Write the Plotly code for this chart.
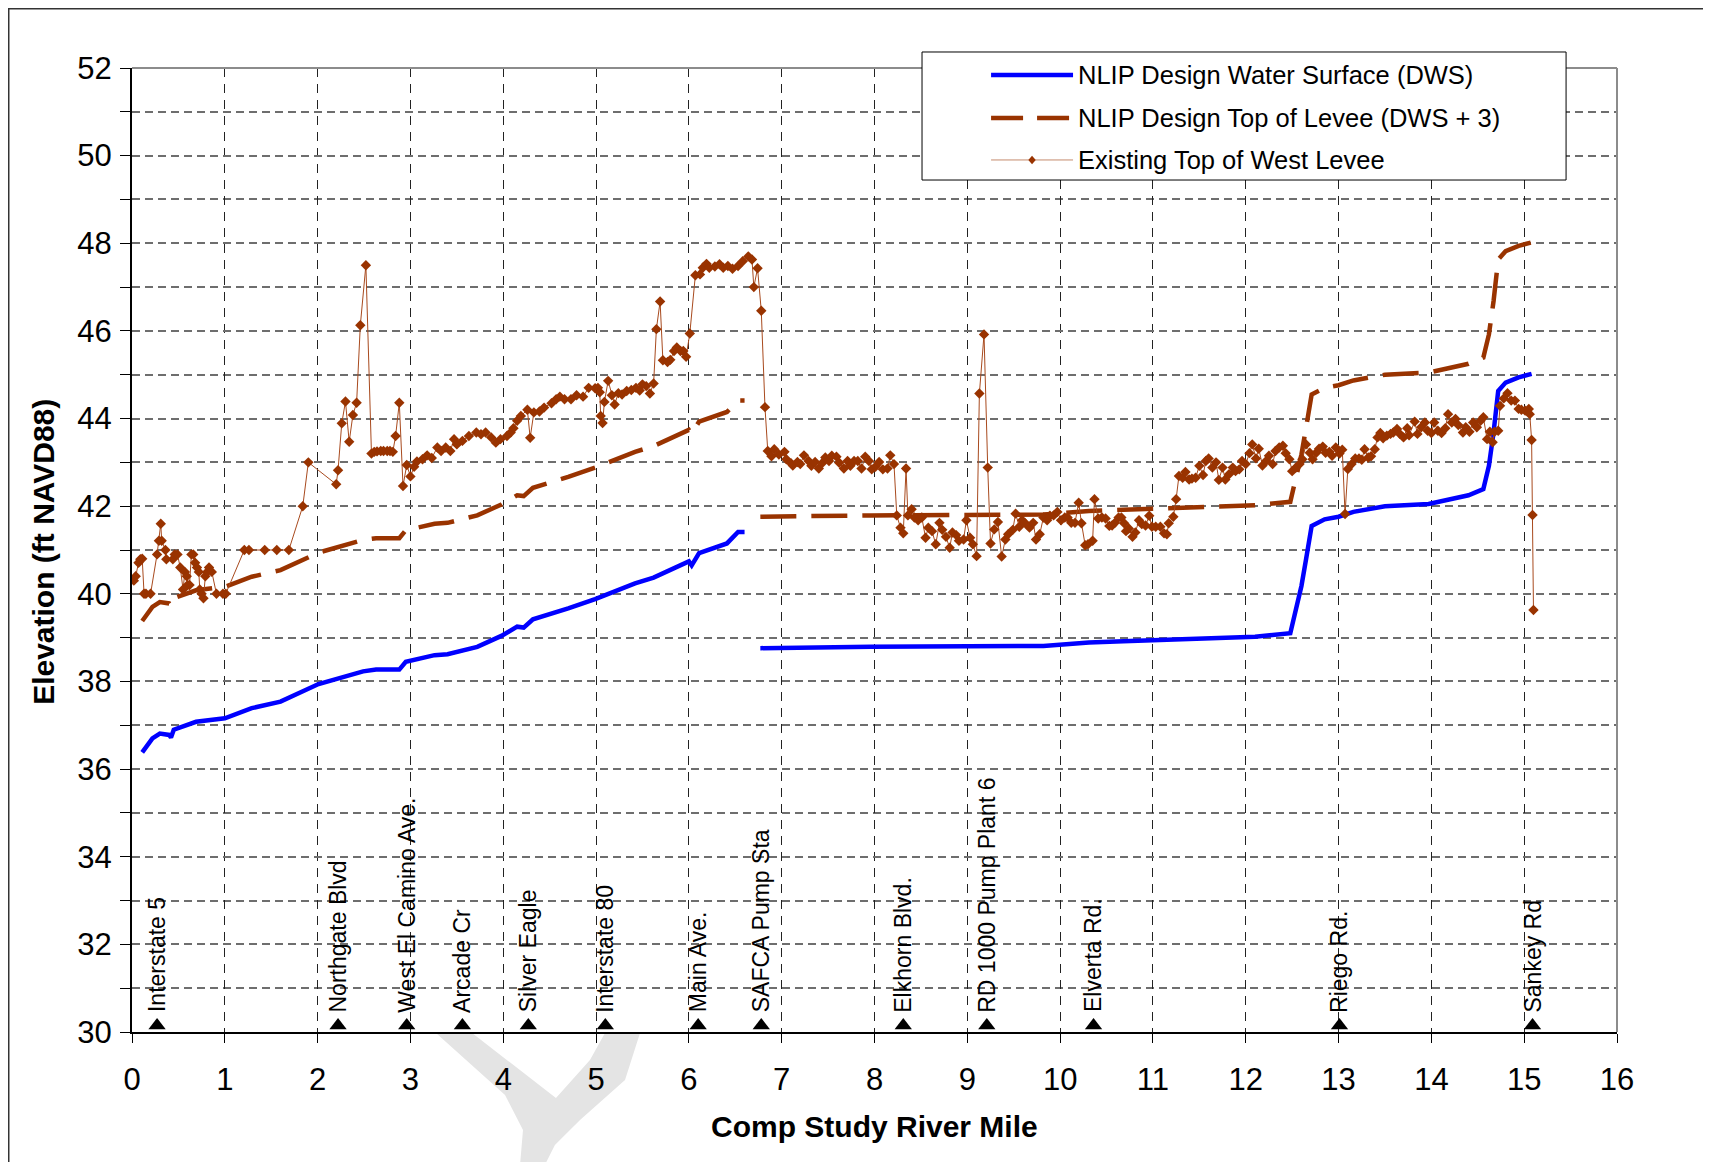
import plotly.graph_objects as go

# existing top of west levee: river mile / elevation (ft NAVD88)
levee_mile = [0.02, 0.04, 0.07, 0.09, 0.11, 0.13, 0.15, 0.20, 0.27, 0.29, 0.31, 0.32, 0.36, 0.37, 0.44, 0.46,
              0.49, 0.52, 0.55, 0.57, 0.59, 0.60, 0.62, 0.64, 0.66, 0.68, 0.70, 0.72, 0.73, 0.75, 0.77, 0.79,
              0.81, 0.83, 0.86, 0.91, 0.98, 1.01, 1.21, 1.26, 1.43, 1.56, 1.69, 1.84, 1.90, 2.20, 2.22, 2.26,
              2.30, 2.34, 2.38, 2.42, 2.46, 2.52, 2.58, 2.61, 2.64, 2.68, 2.71, 2.75, 2.78, 2.81, 2.84, 2.88,
              2.92, 2.96, 3.00, 3.04, 3.07, 3.13, 3.18, 3.23, 3.29, 3.33, 3.38, 3.43, 3.47, 3.50, 3.56, 3.63,
              3.71, 3.76, 3.81, 3.87, 3.92, 3.97, 4.04, 4.08, 4.11, 4.15, 4.19, 4.26, 4.29, 4.33, 4.39, 4.44,
              4.52, 4.57, 4.61, 4.66, 4.73, 4.79, 4.86, 4.92, 4.99, 5.02, 5.04, 5.05, 5.07, 5.09, 5.13, 5.17,
              5.20, 5.24, 5.28, 5.33, 5.38, 5.43, 5.47, 5.50, 5.54, 5.58, 5.62, 5.65, 5.69, 5.72, 5.77, 5.80,
              5.84, 5.87, 5.91, 5.94, 5.97, 6.01, 6.07, 6.12, 6.15, 6.19, 6.22, 6.28, 6.33, 6.37, 6.42, 6.47,
              6.53, 6.58, 6.64, 6.68, 6.70, 6.74, 6.78, 6.82, 6.85, 6.89, 6.92, 6.97, 7.03, 7.05, 7.10, 7.12,
              7.17, 7.20, 7.24, 7.29, 7.32, 7.36, 7.40, 7.44, 7.47, 7.51, 7.54, 7.59, 7.62, 7.67, 7.71, 7.74,
              7.78, 7.82, 7.86, 7.90, 7.94, 7.97, 8.01, 8.05, 8.09, 8.14, 8.17, 8.21, 8.24, 8.28, 8.31, 8.34,
              8.36, 8.40, 8.43, 8.47, 8.51, 8.55, 8.58, 8.62, 8.66, 8.70, 8.73, 8.77, 8.81, 8.84, 8.88, 8.91,
              8.96, 8.99, 9.03, 9.06, 9.10, 9.13, 9.18, 9.22, 9.25, 9.29, 9.33, 9.37, 9.41, 9.44, 9.49, 9.52,
              9.56, 9.59, 9.62, 9.67, 9.71, 9.74, 9.78, 9.82, 9.86, 9.89, 9.93, 9.97, 10.01, 10.05, 10.08, 10.12,
              10.16, 10.20, 10.23, 10.27, 10.30, 10.35, 10.37, 10.41, 10.45, 10.49, 10.53, 10.56, 10.59, 10.63,
              10.66, 10.69, 10.71, 10.74, 10.78, 10.81, 10.85, 10.88, 10.92, 10.96, 10.99, 11.03, 11.08, 11.12,
              11.15, 11.17, 11.22, 11.25, 11.28, 11.32, 11.35, 11.39, 11.42, 11.46, 11.50, 11.54, 11.57, 11.60,
              11.64, 11.68, 11.71, 11.75, 11.78, 11.82, 11.86, 11.89, 11.93, 11.96, 12.00, 12.04, 12.07, 12.11,
              12.14, 12.18, 12.22, 12.25, 12.29, 12.32, 12.36, 12.40, 12.43, 12.47, 12.50, 12.54, 12.58, 12.61,
              12.65, 12.69, 12.72, 12.76, 12.79, 12.83, 12.86, 12.90, 12.93, 12.97, 13.01, 13.04, 13.07, 13.10,
              13.14, 13.18, 13.22, 13.25, 13.28, 13.32, 13.35, 13.39, 13.42, 13.45, 13.48, 13.52, 13.56, 13.59,
              13.63, 13.66, 13.70, 13.74, 13.76, 13.82, 13.85, 13.89, 13.93, 13.96, 14.00, 14.03, 14.07, 14.11,
              14.15, 14.18, 14.22, 14.26, 14.29, 14.34, 14.37, 14.41, 14.45, 14.49, 14.53, 14.56, 14.60, 14.63,
              14.66, 14.68, 14.72, 14.74, 14.78, 14.82, 14.86, 14.90, 14.94, 14.97, 15.01, 15.05, 15.06, 15.08,
              15.09, 15.10]
levee_elev = [40.30, 40.40, 40.71, 40.79, 40.80, 40.00, 40.00, 40.00, 40.90, 41.21, 41.60, 41.21, 41.00, 40.79, 40.79, 40.90,
              40.90, 40.60, 40.10, 40.50, 40.40, 40.20, 40.20, 40.90, 40.90, 40.71, 40.60, 40.50, 40.10, 40.00, 39.90, 40.40,
              40.50, 40.60, 40.50, 40.00, 40.00, 40.00, 41.00, 41.00, 41.00, 41.00, 41.00, 42.00, 43.00, 42.50, 42.82, 43.89,
              44.39, 43.47, 44.08, 44.36, 46.13, 47.50, 43.20, 43.24, 43.25, 43.26, 43.26, 43.26, 43.26, 43.24, 43.60, 44.36,
              42.46, 42.94, 42.68, 42.90, 43.02, 43.07, 43.16, 43.10, 43.34, 43.26, 43.34, 43.26, 43.53, 43.41, 43.49, 43.60,
              43.68, 43.64, 43.68, 43.57, 43.45, 43.53, 43.60, 43.68, 43.78, 43.95, 44.06, 44.20, 43.56, 44.14, 44.16, 44.25,
              44.35, 44.44, 44.50, 44.44, 44.44, 44.53, 44.50, 44.70, 44.69, 44.70, 44.60, 44.06, 43.90, 44.38, 44.86, 44.53,
              44.32, 44.58, 44.55, 44.63, 44.65, 44.70, 44.64, 44.78, 44.74, 44.57, 44.80, 46.04, 46.67, 45.33, 45.29, 45.34,
              45.54, 45.62, 45.54, 45.54, 45.41, 45.94, 47.27, 47.29, 47.44, 47.53, 47.44, 47.47, 47.52, 47.44, 47.48, 47.42,
              47.48, 47.59, 47.70, 47.63, 47.00, 47.43, 46.46, 44.26, 43.26, 43.14, 43.30, 43.18, 43.24, 43.07, 42.98, 42.93,
              43.01, 42.96, 43.16, 43.03, 42.92, 43.01, 42.86, 42.99, 43.11, 43.03, 43.15, 43.13, 42.99, 42.86, 43.03, 42.92,
              43.03, 43.03, 42.86, 43.13, 43.03, 42.84, 42.90, 43.01, 42.84, 42.86, 43.16, 42.96, 41.79, 41.51, 41.38, 42.86,
              41.79, 41.93, 41.74, 41.68, 41.74, 41.28, 41.51, 41.43, 41.13, 41.62, 41.46, 41.30, 41.05, 41.40, 41.34, 41.21,
              41.24, 41.68, 41.28, 41.13, 40.86, 44.57, 45.92, 42.88, 41.15, 41.47, 41.64, 40.85, 41.24, 41.36, 41.46, 41.83,
              41.53, 41.68, 41.62, 41.51, 41.62, 41.24, 41.36, 41.74, 41.68, 41.78, 41.79, 41.87, 41.68, 41.74, 41.74, 41.62,
              41.62, 42.08, 41.61, 41.11, 41.13, 41.21, 42.16, 41.72, 41.74, 41.72, 41.55, 41.56, 41.62, 41.74,
              41.74, 41.61, 41.43, 41.49, 41.30, 41.40, 41.68, 41.59, 41.56, 41.78, 41.53, 41.53, 41.53, 41.38,
              41.36, 41.61, 41.76, 42.16, 42.69, 42.65, 42.78, 42.61, 42.63, 42.65, 42.92, 42.71, 43.03, 43.09,
              42.88, 43.00, 42.60, 42.88, 42.61, 42.73, 42.88, 42.80, 42.84, 43.03, 42.96, 43.21, 43.41, 43.09,
              43.31, 42.93, 43.03, 43.15, 42.96, 43.26, 43.34, 43.38, 43.21, 43.07, 42.80, 42.88, 42.96, 43.07,
              43.41, 43.22, 43.07, 43.22, 43.31, 43.36, 43.22, 43.24, 43.15, 43.34, 43.20, 43.29, 41.82, 42.85,
              42.96, 43.09, 43.09, 43.06, 43.30, 43.11, 43.14, 43.30, 43.57, 43.67, 43.55, 43.61, 43.65, 43.68,
              43.76, 43.65, 43.57, 43.78, 43.62, 43.93, 43.65, 43.80, 43.91, 43.72, 43.67, 43.91, 43.72, 43.67,
              43.78, 44.10, 43.91, 43.99, 43.85, 43.68, 43.80, 43.70, 43.91, 43.80, 43.95, 44.03, 43.53, 43.70,
              43.46, 43.70, 43.72, 44.29, 44.46, 44.58, 44.41, 44.41, 44.22, 44.20, 44.18, 44.22, 44.10, 43.51,
              41.80, 39.63]

# NLIP design water surface (two reaches, gap between them)
dws_mile = [0.11, 0.22, 0.30, 0.40, 0.42, 0.45, 0.69, 1.00, 1.29, 1.60, 2.01, 2.25, 2.49, 2.63, 2.88, 2.95,
            3.26, 3.40, 3.72, 3.98, 4.15, 4.22, 4.32, 4.70, 4.99, 5.42, 5.62, 6.00, 6.03, 6.11, 6.41, 6.53, 6.60,
            None,
            6.77, 7.96, 9.82, 10.31, 10.68, 11.36, 12.10, 12.48, 12.60, 12.65, 12.71, 12.85, 13.00, 13.16, 13.50,
            13.97, 14.40, 14.56, 14.62, 14.67, 14.72, 14.80, 14.94, 15.08]
dws_elev = [36.38, 36.70, 36.81, 36.78, 36.72, 36.90, 37.08, 37.16, 37.39, 37.54, 37.94, 38.08, 38.23, 38.27, 38.27, 38.45,
            38.60, 38.62, 38.79, 39.04, 39.25, 39.23, 39.42, 39.67, 39.88, 40.24, 40.37, 40.74, 40.65, 40.93, 41.15, 41.41, 41.41,
            None,
            38.76, 38.79, 38.81, 38.89, 38.92, 38.98, 39.02, 39.10, 40.18, 40.79, 41.55, 41.70, 41.76, 41.87, 42.00,
            42.05, 42.25, 42.39, 42.92, 43.68, 44.63, 44.82, 44.94, 45.02]

# NLIP design top of levee (DWS + 3)
tol_mile = [0.11, 0.22, 0.30, 0.40, 0.42, 0.45, 0.69, 1.00, 1.29, 1.60, 2.01, 2.25, 2.49, 2.63, 2.88, 2.95,
            3.26, 3.40, 3.72, 3.98, 4.15, 4.22, 4.32, 4.70, 4.99, 5.42, 5.62, 6.00, 6.03, 6.11, 6.41, 6.53, 6.60,
            None,
            6.77, 7.96, 9.82, 10.31, 10.68, 11.36, 12.10, 12.48, 12.60, 12.65, 12.71, 12.85, 13.00, 13.16, 13.50,
            13.97, 14.40, 14.56, 14.62, 14.67, 14.72, 14.80, 14.94, 15.08]
tol_elev = [39.38, 39.70, 39.81, 39.78, 39.72, 39.90, 40.08, 40.16, 40.39, 40.54, 40.94, 41.08, 41.23, 41.27, 41.27, 41.45,
            41.60, 41.62, 41.79, 42.04, 42.25, 42.23, 42.42, 42.67, 42.88, 43.24, 43.37, 43.74, 43.65, 43.93, 44.15, 44.41, 44.41,
            None,
            41.76, 41.79, 41.81, 41.89, 41.92, 41.98, 42.02, 42.10, 43.18, 43.79, 44.55, 44.70, 44.76, 44.87, 45.00,
            45.05, 45.25, 45.39, 45.92, 46.68, 47.63, 47.82, 47.94, 48.02]

# landmarks along the river
landmark_names = ['Interstate 5', 'Northgate Blvd', 'West El Camino Ave.', 'Arcade Cr', 'Silver Eagle',
                  'Interstate 80', 'Main Ave.', 'SAFCA Pump Sta', 'Elkhorn Blvd.', 'RD 1000 Pump Plant 6',
                  'Elverta Rd.', 'Riego Rd.', 'Sankey Rd']
landmark_mile = [0.27, 2.22, 2.96, 3.56, 4.27, 5.10, 6.10, 6.78, 8.31, 9.21, 10.36, 13.01, 15.09]

legend_labels = ['NLIP Design Water Surface (DWS)', 'NLIP Design Top of Levee (DWS + 3)',
                 'Existing Top of West Levee']

BROWN = '#993300'
BLUE = '#0000FF'
FONT = 'Liberation Sans, Arial, sans-serif'

fig = go.Figure()

fig.add_trace(go.Scatter(x=dws_mile, y=dws_elev, mode='lines', line=dict(color=BLUE, width=4.5),
                         name=legend_labels[0], showlegend=False))
fig.add_trace(go.Scatter(x=tol_mile, y=tol_elev, mode='lines',
                         line=dict(color=BROWN, width=4.5, dash='36px,15px'),
                         name=legend_labels[1], showlegend=False))
fig.add_trace(go.Scatter(x=levee_mile, y=levee_elev, mode='lines+markers',
                         line=dict(color='#A84A1E', width=1),
                         marker=dict(symbol='diamond', size=8, color=BROWN),
                         name=legend_labels[2], showlegend=False))

# landmark triangles sitting on the x axis
fig.add_trace(go.Scatter(x=landmark_mile, y=[30.15] * len(landmark_mile), mode='markers',
                         marker=dict(symbol='triangle-up', size=15, color='black'),
                         cliponaxis=False, showlegend=False, hoverinfo='text', text=landmark_names))

for name, mile in zip(landmark_names, landmark_mile):
    fig.add_annotation(x=mile, y=30.4, text=name, textangle=-90, showarrow=False,
                       xanchor='center', yanchor='bottom', font=dict(family=FONT, size=23, color='black'))

# axis titles
fig.add_annotation(xref='paper', yref='paper', x=0.5, y=-0.0985, xanchor='center', yanchor='middle',
                   text='<b>Comp Study River Mile</b>', showarrow=False,
                   font=dict(family=FONT, size=30, color='black'))
fig.add_annotation(xref='paper', yref='paper', x=-0.0593, y=0.498, xanchor='center', yanchor='middle',
                   text='<b>Elevation (ft NAVD88)</b>', textangle=-90, showarrow=False,
                   font=dict(family=FONT, size=30, color='black'))

shapes = []
# plot area top / right border
shapes.append(dict(type='line', xref='paper', yref='paper', x0=0, x1=1, y0=1, y1=1,
                   line=dict(color='#8c8c8c', width=2)))
shapes.append(dict(type='line', xref='paper', yref='paper', x0=1, x1=1, y0=0, y1=1,
                   line=dict(color='#8c8c8c', width=2)))
# outer frame
shapes.append(dict(type='rect', xref='paper', yref='paper', x0=-0.083, x1=1.0593, y0=-0.15, y1=1.0615,
                   line=dict(color='#333333', width=1.5)))
# faint watermark piece under the axis
shapes.append(dict(type='path', xref='paper', yref='paper', layer='below', fillcolor='#e4e4e4',
                   line=dict(width=0),
                   path='M0.2047,-0.001 L0.229,-0.001 L0.2855,-0.0685 L0.3084,-0.029 L0.3185,-0.001 '
                        'L0.3421,-0.001 L0.332,-0.0498 L0.3017,-0.0913 L0.2848,-0.1172 L0.278,-0.138 '
                        'L0.2613,-0.138 L0.2633,-0.1017 L0.2512,-0.0654 Z'))

# legend drawn by hand so the samples are as long as the original
lx0, lx1 = 0.532, 0.9657
ly0, ly1 = 0.8838, 1.0166
shapes.append(dict(type='rect', xref='paper', yref='paper', x0=lx0, x1=lx1, y0=ly0, y1=ly1,
                   fillcolor='white', line=dict(color='black', width=1)))
rows = [0.9927, 0.9481, 0.9046]
sx0, sx1 = 0.5785, 0.6337
shapes.append(dict(type='line', xref='paper', yref='paper', x0=sx0, x1=sx1, y0=rows[0], y1=rows[0],
                   line=dict(color=BLUE, width=4.5)))
shapes.append(dict(type='line', xref='paper', yref='paper', x0=sx0, x1=sx1, y0=rows[1], y1=rows[1],
                   line=dict(color=BROWN, width=4.5, dash='32px,14px')))
shapes.append(dict(type='line', xref='paper', yref='paper', x0=sx0, x1=sx1, y0=rows[2], y1=rows[2],
                   line=dict(color='#C48A6C', width=1)))
mx = (sx0 + sx1) / 2
shapes.append(dict(type='path', xref='paper', yref='paper', fillcolor=BROWN, line=dict(width=0),
                   path=f'M{mx},{rows[2] + 0.0045} L{mx + 0.0025},{rows[2]} L{mx},{rows[2] - 0.0045} '
                        f'L{mx - 0.0025},{rows[2]} Z'))
for label, ry in zip(legend_labels, rows):
    fig.add_annotation(xref='paper', yref='paper', x=0.6355, y=ry, text=label, showarrow=False,
                       xanchor='left', yanchor='middle', font=dict(family=FONT, size=25.5, color='black'))

fig.update_layout(
    width=1711, height=1162,
    margin=dict(l=124, r=102, t=60, b=138),
    plot_bgcolor='white', paper_bgcolor='white',
    font=dict(family=FONT, color='black'),
    shapes=shapes,
    showlegend=False,
)

fig.update_xaxes(range=[0, 16], dtick=1, tick0=0,
                 showline=True, linecolor='black', linewidth=2,
                 ticks='outside', ticklen=9, tickwidth=1, tickcolor='black',
                 tickfont=dict(family=FONT, size=31), ticklabelstandoff=10,
                 showgrid=True, gridcolor='#222222', gridwidth=1, griddash='9px,7px',
                 zeroline=False)
fig.update_yaxes(range=[30, 52], dtick=2, tick0=30,
                 showline=True, linecolor='black', linewidth=2,
                 ticks='outside', ticklen=10, tickwidth=1, tickcolor='black',
                 tickfont=dict(family=FONT, size=31), ticklabelstandoff=2,
                 showgrid=True, gridcolor='#6e6e6e', gridwidth=1.5, griddash='8px,5px',
                 minor=dict(dtick=1, ticks='outside', ticklen=10, tickcolor='black',
                            showgrid=True, gridcolor='#6e6e6e', gridwidth=1.5, griddash='8px,5px'),
                 zeroline=False)

fig.write_html("out.html")
